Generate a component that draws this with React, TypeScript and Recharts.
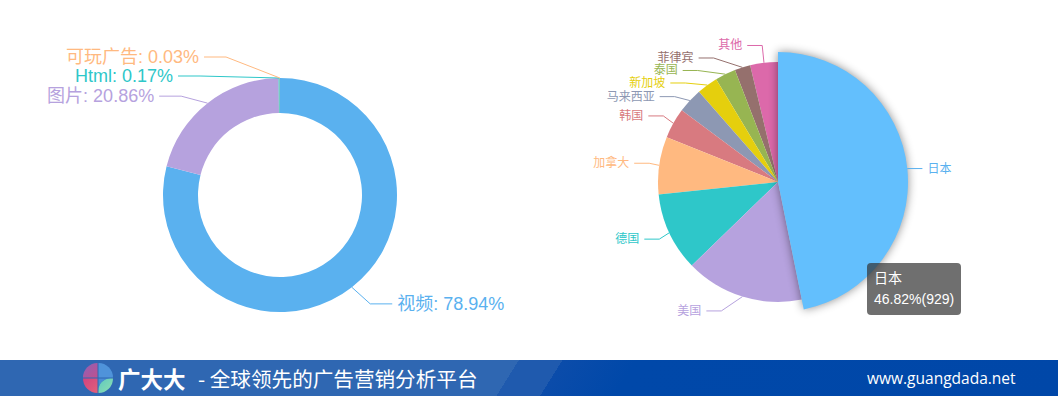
import { PieChart, Pie, Cell, Tooltip, Sector } from 'recharts';

// 广告形式占比 (left donut)
const adTypes = ['视频', '图片', 'Html', '可玩广告'];
const adShares = [78.94, 20.86, 0.17, 0.03];
const adColors = ['#5ab1ef', '#b6a2de', '#2ec7c9', '#ffb980'];

// 投放地区分布 (right pie)
const countries = ['日本', '美国', '德国', '加拿大', '韩国', '马来西亚', '新加坡', '泰国', '菲律宾', '其他'];
const countryCounts = [929, 316, 210, 154, 81, 67, 56, 55, 42, 74];
const countryColors = ['#5ab1ef', '#b6a2de', '#2ec7c9', '#ffb980', '#d87a80', '#8d98b3', '#e5cf0d', '#97b552', '#95706d', '#dc69aa'];
const highlighted = '日本';

const FONT = '"Liberation Sans", "Noto Sans CJK SC", sans-serif';
const RAD = Math.PI / 180;

const countryTotal = countryCounts.reduce((a, b) => a + b, 0);

type LabelItem = { name: string; x: number; y: number; dir: number; len: number; len2: number };

// echarts-style outside label layout: push overlapping labels apart, then slide them along a circle
function adjustSide(list: LabelItem[], cx: number, cy: number, r: number, dir: number, h: number) {
  list.sort((a, b) => a.y - b.y);
  const n = list.length;
  const shiftUp = (end: number, delta: number) => {
    for (let j = end; j >= 0; j--) {
      list[j].y -= delta;
      if (j > 0 && list[j].y > list[j - 1].y + h) break;
    }
  };
  const shiftDown = (start: number, end: number, delta: number) => {
    for (let j = start; j < end; j++) {
      list[j].y += delta;
      if (j > start && j + 1 < end && list[j + 1].y > list[j].y + h) {
        shiftUp(j, delta / 2);
        return;
      }
    }
    shiftUp(end - 1, delta / 2);
  };
  let lastY = 0;
  for (let i = 0; i < n; i++) {
    const d = list[i].y - lastY;
    if (d < 0) shiftDown(i, n, -d);
    lastY = list[i].y + h;
  }
  const changeX = (arr: LabelItem[], isDown: boolean) => {
    let last = isDown ? Number.MAX_VALUE : 0;
    for (const it of arr) {
      const dY = Math.abs(it.y - cy);
      const R = r + it.len + it.len2;
      let dX = dY < r + it.len ? Math.sqrt(R * R - dY * dY) : Math.abs(it.x - cx);
      if (isDown && dX >= last) dX = last - 10;
      if (!isDown && dX <= last) dX = last + 10;
      it.x = cx + dX * dir;
      last = dX;
    }
  };
  changeX(list.filter((it) => it.y < cy), false);
  changeX(list.filter((it) => it.y >= cy), true);
}

function layoutLabels(names: string[], values: number[], cx: number, cy: number, r: number, len: number, len2: number, h: number) {
  const total = values.reduce((a, b) => a + b, 0);
  let acc = 0;
  const items: LabelItem[] = values.map((v, i) => {
    const mid = ((acc + v / 2) / total) * 2 * Math.PI;
    acc += v;
    const dx = Math.sin(mid);
    const dy = -Math.cos(mid);
    const dir = dx < 0 ? -1 : 1;
    return { name: names[i], x: cx + (r + len) * dx + dir * (len2 + 5), y: cy + (r + len) * dy, dir, len, len2 };
  });
  adjustSide(items.filter((it) => it.x >= cx), cx, cy, r, 1, h);
  adjustSide(items.filter((it) => it.x < cx), cx, cy, r, -1, h);
  const byName: Record<string, LabelItem> = {};
  items.forEach((it) => (byName[it.name] = it));
  return byName;
}

const adRows = adTypes.map((name, i) => ({ name, value: adShares[i], color: adColors[i] }));
const countryRows = countries.map((name, i) => ({ name, value: countryCounts[i], color: countryColors[i] })).reverse();

const DONUT = { cx: 280, cy: 195, inner: 82, outer: 117 };
const PIE = { cx: 249, cy: 182, outer: 120 };

const adLabels = layoutLabels(adTypes, adShares, DONUT.cx, DONUT.cy, DONUT.outer, 21, 22, 19);
const countryLabels = layoutLabels(countries, countryCounts, PIE.cx, PIE.cy, PIE.outer, 15, 15, 12.5);

function makeLabel(layout: Record<string, LabelItem>, fontSize: number, text: (p: any) => string) {
  return (props: any) => {
    const { cx, cy, midAngle, outerRadius, payload } = props;
    const it = layout[payload.name];
    const r0 = payload.name === highlighted && layout === countryLabels ? outerRadius + 10 : outerRadius;
    const sx = cx + r0 * Math.cos(-midAngle * RAD);
    const sy = cy + r0 * Math.sin(-midAngle * RAD);
    const endX = it.x - it.dir * 5;
    const elbowX = endX - it.dir * it.len2;
    return (
      <g>
        <polyline points={`${sx},${sy} ${elbowX},${it.y} ${endX},${it.y}`} fill="none" stroke={payload.color} strokeWidth={1} />
        <text x={it.x} y={it.y} fill={payload.color} fontSize={fontSize} fontFamily={FONT} textAnchor={it.dir < 0 ? 'end' : 'start'} dominantBaseline="central">
          {text(payload)}
        </text>
      </g>
    );
  };
}

const renderAdLabel = makeLabel(adLabels, 18, (p) => `${p.name}: ${p.value.toFixed(2)}%`);
const renderCountryLabel = makeLabel(countryLabels, 12, (p) => p.name);

const ActiveSlice = (props: any) => (
  <Sector {...props} fill="#63bffd" outerRadius={props.outerRadius + 10} style={{ filter: 'drop-shadow(0 0 5px rgba(0,0,0,0.45))' }} />
);

const TipBox = ({ active, payload }: any) => {
  if (!active || !payload || !payload.length) return null;
  const row = payload[0].payload;
  return (
    <div style={{ background: 'rgba(50,50,50,0.7)', borderRadius: 4, padding: '5px 7px', color: '#fff', fontSize: 14, lineHeight: '21px', fontFamily: FONT, whiteSpace: 'nowrap' }}>
      <div>{row.name}</div>
      <div>{((row.value / countryTotal) * 100).toFixed(2)}%({row.value})</div>
    </div>
  );
};

function Logo() {
  return (
    <svg width={32} height={32} viewBox="0 0 32 32" style={{ display: 'block' }}>
      <defs>
        <linearGradient id="lgTL" x1="0" y1="0" x2="1" y2="1">
          <stop offset="0" stopColor="#8a62b8" />
          <stop offset="1" stopColor="#c2508e" />
        </linearGradient>
        <linearGradient id="lgBL" x1="0" y1="0" x2="1" y2="1">
          <stop offset="0" stopColor="#d2447f" />
          <stop offset="1" stopColor="#e2607a" />
        </linearGradient>
        <linearGradient id="lgBR" x1="0" y1="0" x2="1" y2="1">
          <stop offset="0" stopColor="#5fc9c0" />
          <stop offset="1" stopColor="#8fe0b0" />
        </linearGradient>
      </defs>
      <path d="M15.5 15.5 L15.5 1 A14.5 14.5 0 0 0 1 15.5 Z" fill="url(#lgTL)" />
      <path d="M16.5 15.5 L16.5 1 A14.5 14.5 0 0 1 31 15.5 Z" fill="#4f93da" />
      <path d="M15.5 16.5 L1 16.5 A14.5 14.5 0 0 0 15.5 31 Z" fill="url(#lgBL)" />
      <path d="M16.5 31 L16.5 28 A11.5 11.5 0 0 1 28 16.5 L31 16.5 A14.5 14.5 0 0 1 16.5 31 Z" fill="url(#lgBR)" />
      <path d="M16.5 16.5 L28 16.5 A11.5 11.5 0 0 0 16.5 28 Z" fill="#4f93da" opacity={0.85} />
    </svg>
  );
}

function Banner() {
  return (
    <div
      style={{
        position: 'absolute',
        left: 0,
        top: 360,
        width: 1058,
        height: 36,
        background:
          'linear-gradient(122deg, #2f67b2 0px, #2f67b2 440px, #1f5aae 440px, #1f5aae 477px, #0b4caa 477px, #0048a9 540px, #0047a8 100%)',
        color: '#fff',
      }}
    >
      <div style={{ position: 'absolute', left: 82, top: 2 }}>
        <Logo />
      </div>
      <div style={{ position: 'absolute', left: 118, top: 0, height: 36, lineHeight: '36px', fontSize: 22.5, fontWeight: 'bold', fontFamily: '"Noto Sans CJK SC", sans-serif' }}>
        广大大
      </div>
      <div style={{ position: 'absolute', left: 198, top: 0, height: 36, lineHeight: '36px', fontSize: 20.6, fontFamily: '"Noto Sans CJK SC", sans-serif' }}>
        - 全球领先的广告营销分析平台
      </div>
      <div style={{ position: 'absolute', left: 867, top: 0, height: 36, lineHeight: '36px', fontSize: 15.5, fontFamily: '"Open Sans", sans-serif' }}>
        www.guangdada.net
      </div>
    </div>
  );
}

export default function App() {
  return (
    <div style={{ position: 'relative', width: 1058, height: 396, background: '#fff', overflow: 'hidden' }}>
      <style>{'body{margin:0}'}</style>
      <div style={{ position: 'absolute', left: 0, top: 0 }}>
        <PieChart width={529} height={360} margin={{ top: 0, right: 0, bottom: 0, left: 0 }}>
          <Pie
            data={adRows}
            dataKey="value"
            nameKey="name"
            cx={DONUT.cx}
            cy={DONUT.cy}
            innerRadius={DONUT.inner}
            outerRadius={DONUT.outer}
            startAngle={90}
            endAngle={-270}
            stroke="none"
            label={renderAdLabel}
            labelLine={false}
            isAnimationActive={false}
          >
            {adRows.map((row) => (
              <Cell key={row.name} fill={row.color} />
            ))}
          </Pie>
        </PieChart>
      </div>
      <div style={{ position: 'absolute', left: 529, top: 0 }}>
        <PieChart width={529} height={360} margin={{ top: 0, right: 0, bottom: 0, left: 0 }}>
          <Pie
            data={countryRows}
            dataKey="value"
            nameKey="name"
            cx={PIE.cx}
            cy={PIE.cy}
            outerRadius={PIE.outer}
            startAngle={90}
            endAngle={450}
            stroke="none"
            activeShape={ActiveSlice}
            label={renderCountryLabel}
            labelLine={false}
            isAnimationActive={false}
          >
            {countryRows.map((row) => (
              <Cell key={row.name} fill={row.color} />
            ))}
          </Pie>
          <Tooltip
            active
            defaultIndex={countryRows.findIndex((r) => r.name === highlighted)}
            position={{ x: 338, y: 263 }}
            content={<TipBox />}
            isAnimationActive={false}
          />
        </PieChart>
      </div>
      <Banner />
    </div>
  );
}
